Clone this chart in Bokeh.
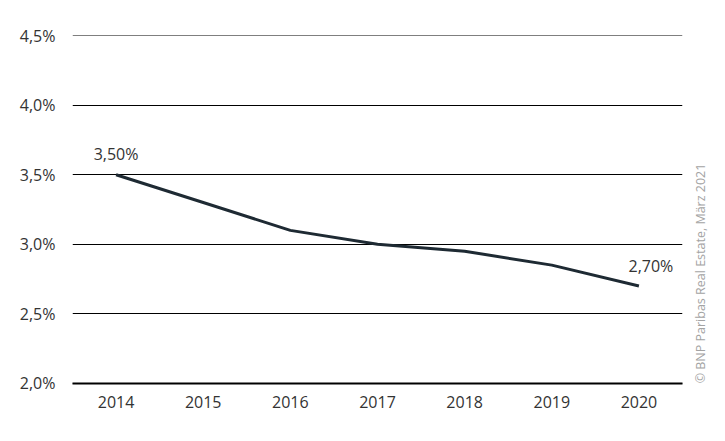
import math
from bokeh.plotting import figure
from bokeh.models import ColumnDataSource, FixedTicker, Range1d, LinearAxis
from bokeh.core.properties import value
from bokeh.embed import file_html
from bokeh.resources import INLINE

years = [2014, 2015, 2016, 2017, 2018, 2019, 2020]
rates = [3.50, 3.30, 3.10, 3.00, 2.95, 2.85, 2.70]
y_ticks = [2.0, 2.5, 3.0, 3.5, 4.0, 4.5]
y_tick_labels = ["2,0%", "2,5%", "3,0%", "3,5%", "4,0%", "4,5%"]
x_tick_labels = ["2014", "2015", "2016", "2017", "2018", "2019", "2020"]
label_years = [2014, 2020]
label_rates = [3.50, 2.70]
label_texts = [f"{v:.2f}".replace(".", ",") + "%" for v in label_rates]
source_note = "© BNP Paribas Real Estate, März 2021"

FONT = "Open Sans"
TXT = "#333333"
NOTE_POS = 2.0  # where the rotated source note starts

p = figure(width=725, height=441, output_backend="svg", toolbar_location=None,
           x_range=Range1d(2013.5, 2020.5), y_range=Range1d(1.999, 4.501),
           min_border_left=72, min_border_right=43, min_border_top=35, min_border_bottom=58)
p.outline_line_color = None
p.background_fill_color = "white"
p.border_fill_color = "white"

p.xgrid.grid_line_color = None
p.ygrid.ticker = FixedTicker(ticks=y_ticks)
p.ygrid.grid_line_color = "black"
p.ygrid.grid_line_width = 1

p.yaxis.ticker = FixedTicker(ticks=y_ticks)
p.yaxis.major_label_overrides = {t: l for t, l in zip(y_ticks, y_tick_labels)}
p.yaxis.axis_line_color = None
p.yaxis.major_label_standoff = 17

p.xaxis.ticker = FixedTicker(ticks=years)
p.xaxis.major_label_overrides = {y: l for y, l in zip(years, x_tick_labels)}
p.xaxis.axis_line_color = "black"
p.xaxis.axis_line_width = 2
p.xaxis.major_label_standoff = 12

# source note as a rotated label on a right-hand axis
note_axis = LinearAxis(ticker=FixedTicker(ticks=[NOTE_POS]),
                       major_label_overrides={NOTE_POS: source_note},
                       axis_line_color=None,
                       major_label_orientation=math.pi / 2,
                       major_label_standoff=18,
                       major_label_text_font=FONT, major_label_text_font_size="12.5px",
                       major_label_text_color="#a3a3a3")
p.add_layout(note_axis, "right")

for ax in (p.xaxis[0], p.yaxis[0], note_axis):
    ax.major_tick_line_color = None
    ax.minor_tick_line_color = None
    ax.major_tick_out = 0
    ax.major_tick_in = 0
    ax.minor_tick_out = 0
    ax.minor_tick_in = 0
for ax in (p.xaxis[0], p.yaxis[0]):
    ax.major_label_text_font = FONT
    ax.major_label_text_font_size = "16px"
    ax.major_label_text_color = TXT

p.line(years, rates, line_color="#1e2a33", line_width=3, line_join="round")

src = ColumnDataSource(dict(x=label_years, y=label_rates, t=label_texts,
                            dx=[0, 12], dy=[-10, -9]))
p.text(x="x", y="y", text="t", source=src, text_font=value(FONT), text_font_size="16px",
       text_color=TXT, text_align="center", text_baseline="bottom",
       x_offset="dx", y_offset="dy")

open("out.html", "w").write(file_html(p, INLINE))
